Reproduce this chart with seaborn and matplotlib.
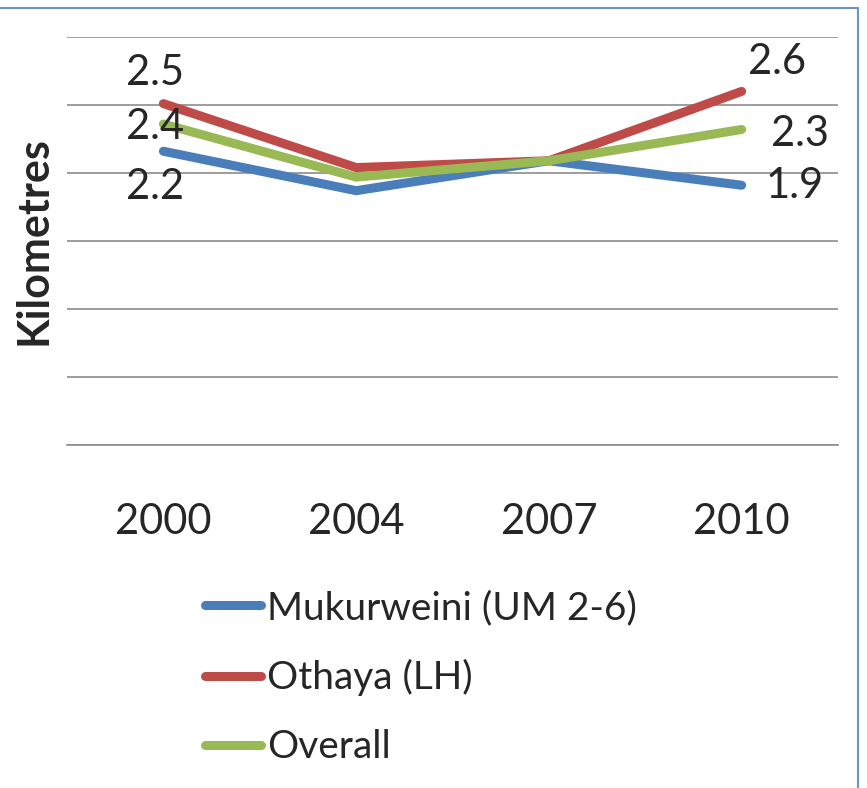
import pandas as pd
import seaborn as sns
import matplotlib.pyplot as plt
from matplotlib.lines import Line2D

years = ["2000", "2004", "2007", "2010"]
mukurweini = [2.16, 1.87, 2.09, 1.91]
othaya = [2.51, 2.04, 2.09, 2.60]
overall = [2.36, 1.97, 2.09, 2.32]
series_names = ["Mukurweini (UM 2-6)", "Othaya (LH)", "Overall"]
colors = ["#4A7EBB", "#BE4B48", "#98B954"]

# pixel offsets of the data labels (first / last point)
label_offsets = {
    "Mukurweini (UM 2-6)": [(-8, -36), (53, -1)],
    "Othaya (LH)": [(-8, 31), (35, 29)],
    "Overall": [(-8, -3), (58, -5)],
}


def build_frame():
    rows = []
    for name, vals in zip(series_names, [mukurweini, othaya, overall]):
        for y, v in zip(years, vals):
            rows.append({"year": y, "km": v, "series": name})
    return pd.DataFrame(rows)


def plot_chart(data):
    sns.set_style("white")
    plt.rcParams["font.family"] = ["Lato", "DejaVu Sans"]
    fig = plt.figure(figsize=(8.67, 7.88), dpi=100)
    ax = fig.add_axes([67 / 867, 1 - 445 / 788, (838 - 67) / 867, (445 - 37) / 788])

    palette = dict(zip(series_names, colors))
    sns.lineplot(data=data, x="year", y="km", hue="series", palette=palette,
                 linewidth=6.5, ax=ax, legend=False, sort=False)
    for line in ax.get_lines():
        line.set_solid_capstyle("round")
        line.set_solid_joinstyle("miter")

    ax.set_xlim(-0.5, 3.5)
    ax.set_ylim(0, 3)
    ax.set_yticks([0, 0.5, 1, 1.5, 2, 2.5, 3])
    ax.yaxis.grid(True, color="#8C8C8C", linewidth=1.2)
    ax.set_axisbelow(True)
    ax.tick_params(axis="y", left=False, labelleft=False)
    for s in ["top", "right", "left"]:
        ax.spines[s].set_visible(False)
    ax.spines["bottom"].set_color("#8C8C8C")
    ax.spines["bottom"].set_linewidth(1.2)

    ax.set_xticks(range(len(years)))
    ax.set_xticklabels(years, fontsize=30)
    ax.set_xticks([-0.5, 0.5, 1.5, 2.5, 3.5], minor=True)
    ax.tick_params(axis="x", which="major", length=0, pad=42)
    ax.tick_params(axis="x", which="minor", length=11, width=1.2, color="#8C8C8C")
    ax.set_xlabel("")
    ax.set_ylabel("Kilometres", fontsize=31, fontweight="bold", labelpad=10)

    for name, vals in zip(series_names, [mukurweini, othaya, overall]):
        for idx, off in zip([0, len(years) - 1], label_offsets[name]):
            ax.annotate(f"{vals[idx]:.1f}", (idx, vals[idx]), xytext=off,
                        textcoords="offset pixels", ha="center", va="center",
                        fontsize=30)

    handles = [Line2D([0], [0], color=c, linewidth=6.5, solid_capstyle="round")
               for c in colors]
    fig.legend(handles, series_names, loc="upper left",
               bbox_to_anchor=(205 / 867, 1 - 590 / 788), frameon=False,
               fontsize=28, handlelength=1.45, handletextpad=0.15,
               labelspacing=0.85, borderpad=0, borderaxespad=0)

    # chart frame (top and right edge)
    fig.add_artist(Line2D([0, 858 / 867], [1 - 8 / 788, 1 - 8 / 788],
                          color="#6E93C6", linewidth=1.5, transform=fig.transFigure))
    fig.add_artist(Line2D([858 / 867, 858 / 867], [0, 1 - 8 / 788],
                          color="#6E93C6", linewidth=1.5, transform=fig.transFigure))

    fig.savefig("out.png", dpi=100, facecolor="white")


if __name__ == "__main__":
    plot_chart(build_frame())
